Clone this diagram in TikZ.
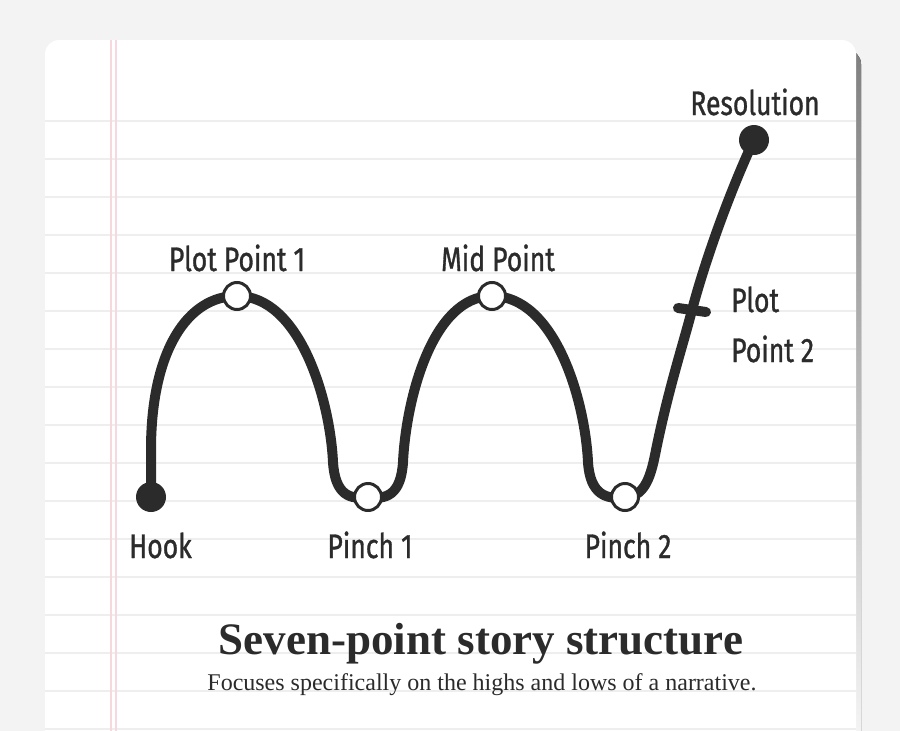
\documentclass[tikz,border=0pt]{standalone}
\usepackage{fontspec}
\setmainfont{Liberation Serif}
\newfontfamily\handfont[FakeStretch=0.78, FakeBold=0.9]{Fira Sans}
\usetikzlibrary{calc}

\definecolor{ink}{HTML}{2B2B2B}
\definecolor{desk}{HTML}{F3F3F3}
\definecolor{rule}{HTML}{EEEEEE}
\definecolor{margin}{HTML}{F7D8DF}
\definecolor{shade}{HTML}{EBEBEB}

\begin{document}
\begin{tikzpicture}[x=1pt, y=-1pt,
    dot/.style={circle, fill=ink, inner sep=0pt, minimum size=30pt},
    ring/.style={circle, draw=ink, line width=3pt, fill=white, inner sep=0pt, minimum size=27pt},
    lbl/.style={font=\handfont\fontsize{34}{34}\selectfont, text=ink, inner sep=0pt, anchor=base},
    storyline/.style={draw=ink, line width=10pt, line cap=round}]
    \useasboundingbox (0,0) rectangle (900,731);
    \fill[desk] (0,0) rectangle (900,731);

    % paper sheet
    \fill[shade, rounded corners=14pt] (49,50) rectangle (861,800);
    \fill[white, rounded corners=14pt] (45,40) rectangle (856,800);
    \foreach \y in {121,159,...,729}
        \draw[rule, line width=2pt] (45,\y) -- (856,\y);
    \draw[margin, line width=1.5pt] (111,40) -- (111,731);
    \draw[margin, line width=1.5pt] (116,40) -- (116,731);

    % points of the story
    \coordinate (h) at (151,497);
    \coordinate (p1) at (237,296);
    \coordinate (c1) at (368,497);
    \coordinate (m) at (492,296);
    \coordinate (c2) at (625,497);
    \coordinate (p2) at (692,310);
    \coordinate (r) at (754,140);

    \draw[storyline] (h) -- (151,450) .. controls (151,350) and (188,296) .. (p1)
        .. controls (300,296) and (330,400) .. (333,462)
        .. controls (335,495) and (350,500) .. (c1)
        .. controls (386,500) and (401,495) .. (403,462)
        .. controls (406,400) and (432,296) .. (m)
        .. controls (555,296) and (585,400) .. (588,462)
        .. controls (590,495) and (607,500) .. (c2)
        .. controls (643,497) and (650,480) .. (655,455)
        .. controls (668,390) and (683,345) .. (p2)
        .. controls (708,250) and (735,180) .. (r);
    \draw[storyline] ($(p2)+(-14,-2)$) -- ($(p2)+(14,2)$);

    \node[dot] (hook) at (h) {};
    \node[ring] (plotone) at (p1) {};
    \node[ring] (pinchone) at (c1) {};
    \node[ring] (midpoint) at (m) {};
    \node[ring] (pinchtwo) at (c2) {};
    \node[dot] (resolution) at (r) {};

    % labels
    \node[lbl, anchor=base west] at (129,558) {Hook};
    \node[lbl] at (237,271) {Plot Point 1};
    \node[lbl] at (370,558) {Pinch 1};
    \node[lbl] at (498,271) {Mid Point};
    \node[lbl] at (628,558) {Pinch 2};
    \node[lbl] at (755,115) {Resolution};
    \node[lbl, anchor=base west] at (731,312) {Plot};
    \node[lbl, anchor=base west] at (731,362) {Point 2};

    \node[text=ink, font=\bfseries\fontsize{45}{45}\selectfont, anchor=base] (title) at (481,654) {Seven-point story structure};
    \node[text=ink, font=\fontsize{24}{24}\selectfont, anchor=base] (subtitle) at (482,690) {Focuses specifically on the highs and lows of a narrative.};
\end{tikzpicture}
\end{document}
